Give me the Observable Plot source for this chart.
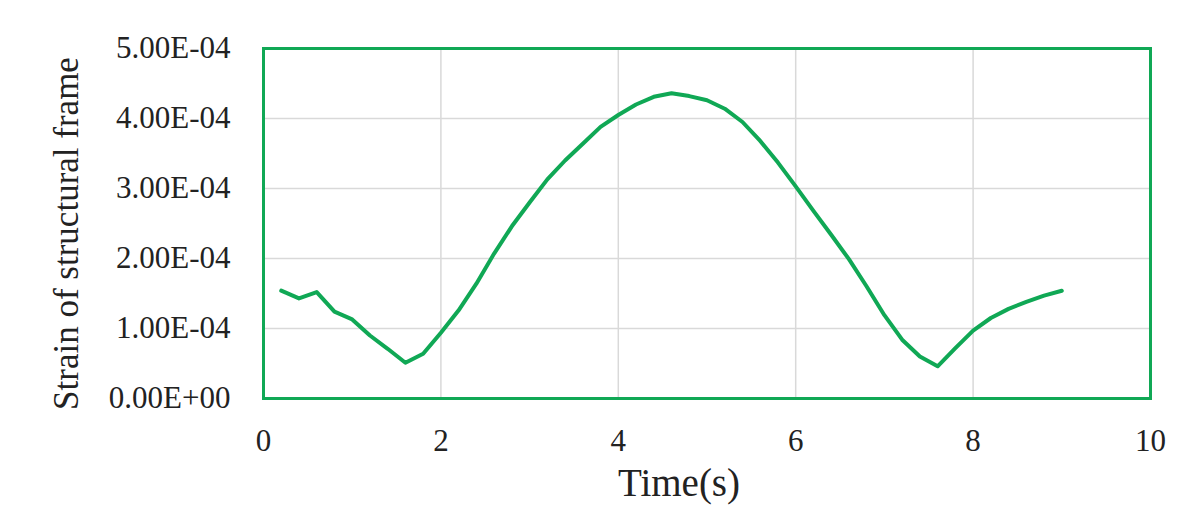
<!DOCTYPE html>
<html>
<head>
<meta charset="utf-8">
<script src="https://cdn.jsdelivr.net/npm/d3@7"></script>
<script src="https://cdn.jsdelivr.net/npm/@observablehq/plot@0.6"></script>
<style>
  html, body { margin: 0; padding: 0; background: #fff; }
  #chart svg { display: block; }
</style>
</head>
<body>
<div id="chart"></div>
<script>
// Time (s)
const times = [0.2,0.4,0.6,0.8,1.0,1.2,1.4,1.6,1.8,2.0,2.2,2.4,2.6,2.8,3.0,3.2,3.4,3.6,3.8,4.0,4.2,4.4,4.6,4.8,5.0,5.2,5.4,5.6,5.8,6.0,6.2,6.4,6.6,6.8,7.0,7.2,7.4,7.6,7.8,8.0,8.2,8.4,8.6,8.8,9.0];
// Strain of structural frame
const strain = [1.54e-4,1.43e-4,1.52e-4,1.24e-4,1.13e-4,0.90e-4,0.71e-4,0.51e-4,0.64e-4,0.94e-4,1.26e-4,1.64e-4,2.07e-4,2.46e-4,2.80e-4,3.13e-4,3.40e-4,3.64e-4,3.88e-4,4.05e-4,4.20e-4,4.31e-4,4.36e-4,4.32e-4,4.26e-4,4.14e-4,3.95e-4,3.68e-4,3.37e-4,3.03e-4,2.68e-4,2.34e-4,1.99e-4,1.60e-4,1.19e-4,0.84e-4,0.60e-4,0.46e-4,0.72e-4,0.97e-4,1.15e-4,1.28e-4,1.38e-4,1.47e-4,1.54e-4];
// Axis ticks
const xTicks = [0,2,4,6,8,10];
const yTicks = [0,1e-4,2e-4,3e-4,4e-4,5e-4];
const yTickLabels = ["0.00E+00","1.00E-04","2.00E-04","3.00E-04","4.00E-04","5.00E-04"];
const xTitle = "Time(s)";
const yTitle = "Strain of structural frame";

const data = times.map((t, i) => ({t, v: strain[i]}));
const green = "#10a855";
const grid = "#d9d9d9";

const chart = Plot.plot({
  width: 1200,
  height: 521,
  marginLeft: 263,
  marginRight: 50,
  marginTop: 48,
  marginBottom: 123,
  style: {fontFamily: "'Liberation Serif', 'Times New Roman', serif", background: "#fff", color: "#222"},
  x: {domain: [0, 10]},
  y: {domain: [0, 5e-4]},
  marks: [
    Plot.gridX(xTicks, {stroke: grid, strokeOpacity: 1, strokeWidth: 1.5}),
    Plot.gridY(yTicks, {stroke: grid, strokeOpacity: 1, strokeWidth: 1.5}),
    Plot.axisX(xTicks, {tickSize: 0, tickPadding: 30, fontSize: 31, label: null, tickFormat: d => String(d)}),
    Plot.axisY(yTicks, {tickSize: 0, tickPadding: 33, fontSize: 31, label: null,
      tickFormat: d => yTickLabels[yTicks.indexOf(d)]}),
    Plot.line(data, {x: "t", y: "v", stroke: green, strokeWidth: 4, curve: "linear", strokeLinejoin: "round"}),
    Plot.frame({stroke: green, strokeWidth: 3}),
    Plot.text([xTitle], {frameAnchor: "bottom", dx: -28, dy: 97, fontSize: 39, fill: "#222", textAnchor: "middle"}),
    Plot.text([yTitle], {frameAnchor: "left", dx: -197, dy: 10, rotate: -90, fontSize: 35, fill: "#222", textAnchor: "middle"})
  ]
});
document.getElementById("chart").appendChild(chart);
</script>
</body>
</html>
